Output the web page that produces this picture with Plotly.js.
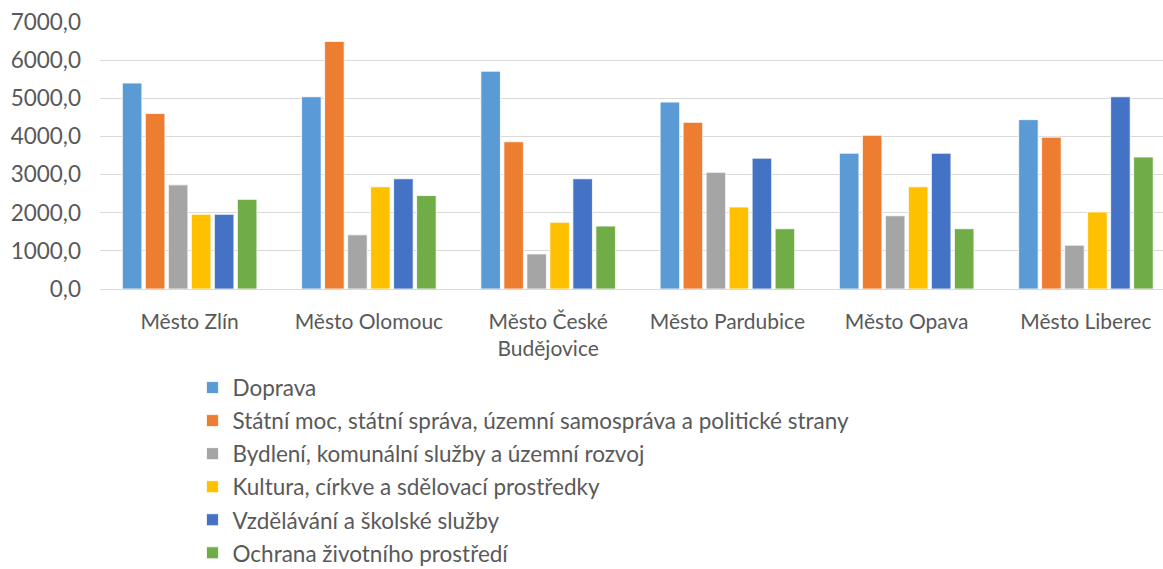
<!DOCTYPE html>
<html>
<head>
<meta charset="utf-8">
<script src="https://cdn.plot.ly/plotly-3.0.1.min.js"></script>
<style>html,body{margin:0;padding:0;background:#fff}#chart{width:1163px;height:569px}</style>
</head>
<body>
<div id="chart"></div>
<script>
const categories = ["Město Zlín", "Město Olomouc", "Město České<br>Budějovice", "Město Pardubice", "Město Opava", "Město Liberec"];
const seriesNames = [
  "Doprava",
  "Státní moc, státní správa, územní samospráva a politické strany",
  "Bydlení, komunální služby a územní rozvoj",
  "Kultura, církve a sdělovací prostředky",
  "Vzdělávání a školské služby",
  "Ochrana životního prostředí"
];
const doprava   = [5400, 5040, 5710, 4900, 3560, 4440];
const statniMoc = [4600, 6490, 3860, 4370, 4030, 3980];
const bydleni   = [2730, 1420, 920, 3060, 1920, 1150];
const kultura   = [1960, 2680, 1750, 2150, 2680, 2020];
const vzdelavani= [1960, 2890, 2890, 3430, 3560, 5040];
const ochrana   = [2350, 2450, 1650, 1580, 1580, 3460];
const colors = ["#5B9BD5", "#ED7D31", "#A5A5A5", "#FFC000", "#4472C4", "#70AD47"];
const allSeries = [doprava, statniMoc, bydleni, kultura, vzdelavani, ochrana];

const idx = categories.map((c, i) => i);
const traces = allSeries.map((vals, i) => ({
  type: "bar",
  name: seriesNames[i],
  x: idx,
  y: vals,
  legendgroup: "g" + i,
  marker: {color: colors[i], line: {color: "rgba(255,255,255,0.8)", width: 1}},
  hoverinfo: "y+name"
}));

const font = "Lato, 'Open Sans', sans-serif";
const layout = {
  width: 1163, height: 569,
  margin: {l: 100, r: 0, t: 22, b: 280, autoexpand: false},
  paper_bgcolor: "#fff", plot_bgcolor: "#fff",
  font: {family: font, size: 21, color: "#595959"},
  separators: ",.",
  barmode: "group",
  bargap: 0.23,
  bargroupgap: 0.15,
  showlegend: true,
  legend: {
    x: 0.087, y: -0.29, xanchor: "left", yanchor: "top",
    orientation: "v", traceorder: "grouped", tracegroupgap: 0.8,
    font: {family: font, size: 22.5, color: "#595959"},
    bgcolor: "rgba(0,0,0,0)"
  },
  xaxis: {
    tickmode: "array", tickvals: idx, ticktext: categories,
    range: [-0.5, 5.43],
    showgrid: false, zeroline: false, showline: false,
    ticks: "", ticklabelstandoff: 18, tickfont: {size: 21, color: "#595959"}
  },
  yaxis: {
    range: [0, 7000], dtick: 1000, tickformat: ".1f",
    showgrid: true, gridcolor: "#D9D9D9", gridwidth: 1,
    zeroline: true, zerolinecolor: "#D9D9D9", zerolinewidth: 1,
    showline: false, ticks: "", ticklabelstandoff: 18,
    tickfont: {size: 22.5, color: "#595959"}
  }
};
Plotly.newPlot("chart", traces, layout, {displayModeBar: false, staticPlot: true});
</script>
</body>
</html>
